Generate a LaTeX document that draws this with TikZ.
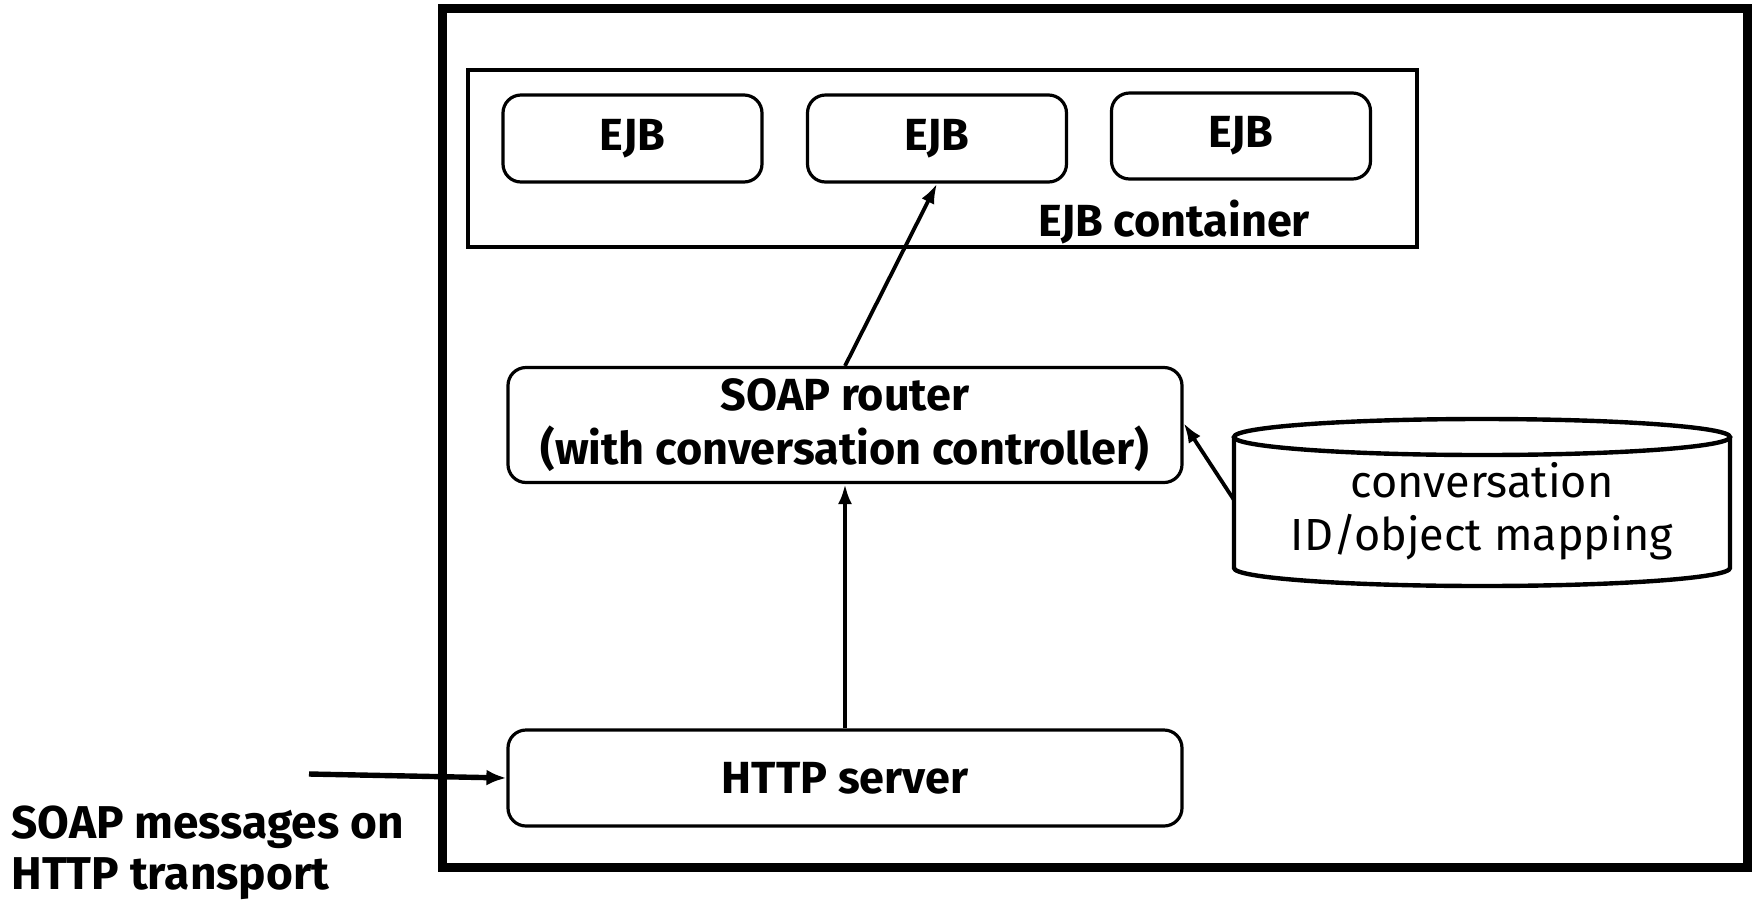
\documentclass[tikz,border=0pt]{standalone}
\usepackage{fontspec}
\setmainfont{Fira Sans}
\usetikzlibrary{arrows.meta}
\tikzset{
  x=0.5pt, y=-0.5pt,
  bx/.style={draw, line width=1.6pt, rounded corners=9pt, inner sep=0pt, font=\fontsize{22.5}{26}\selectfont\bfseries, align=center},
  arr/.style={line width=1.9pt, -{Latex[length=10pt,width=7pt]}},
  lbl/.style={font=\fontsize{22.5}{26}\selectfont\bfseries, inner sep=0pt},
}
\begin{document}
\begin{tikzpicture}
\useasboundingbox (0,0) rectangle (1753,901);
% outer frame
\node[draw, line width=4.5pt, minimum width=652.5pt, minimum height=429.5pt, inner sep=0pt] (outer) at (1094.5,437.5) {};
% EJB container
\node[draw, line width=2.3pt, minimum width=474.5pt, minimum height=88.5pt, inner sep=0pt] (cont) at (942.5,158.5) {};
\node[lbl] (contlbl) at (1174,222) {EJB container};
% EJBs
\node[bx, minimum width=129.5pt, minimum height=43.5pt] (ejb1) at (632.5,138.5) {EJB};
\node[bx, minimum width=129.5pt, minimum height=43.5pt] (ejb2) at (937,138.5) {EJB};
\node[bx, minimum width=129.5pt, minimum height=43pt] (ejb3) at (1241,136) {EJB};
% router
\node[bx, minimum width=337pt, minimum height=57.5pt] (router) at (845,425) {SOAP router\\[1pt](with conversation controller)};
% http
\node[bx, minimum width=337pt, minimum height=48pt] (http) at (845,778) {HTTP server};
% cylinder
\node[minimum width=248pt, minimum height=84pt, inner sep=0pt, align=center, font=\fontsize{22.5}{26.5}\selectfont] (db) at (1482,511) {conversation\\ID/object mapping};
\draw[line width=2.2pt] (1482,437) ellipse [x radius=124pt, y radius=9pt];
\draw[line width=2.2pt] (1234,437) -- (1234,568) arc[start angle=180, end angle=360, x radius=124pt, y radius=9pt] -- (1730,437);
\coordinate (dbin) at (1234,500);
% arrows
\draw[arr] (router.north) -- (ejb2.south);
\draw[arr] (http.north) -- (router.south);
\draw[arr] (dbin) -- (router.east |- 0,423);
\coordinate (ext) at (309,774);
\draw[line width=2.7pt, -{Latex[length=10pt,width=8pt]}] (ext) -- (http.west);
% external label
\node[lbl, anchor=north west, align=left, font=\fontsize{23}{25.5}\selectfont\bfseries] (extlbl) at (11,805) {SOAP messages on\\HTTP transport};
\end{tikzpicture}
\end{document}
